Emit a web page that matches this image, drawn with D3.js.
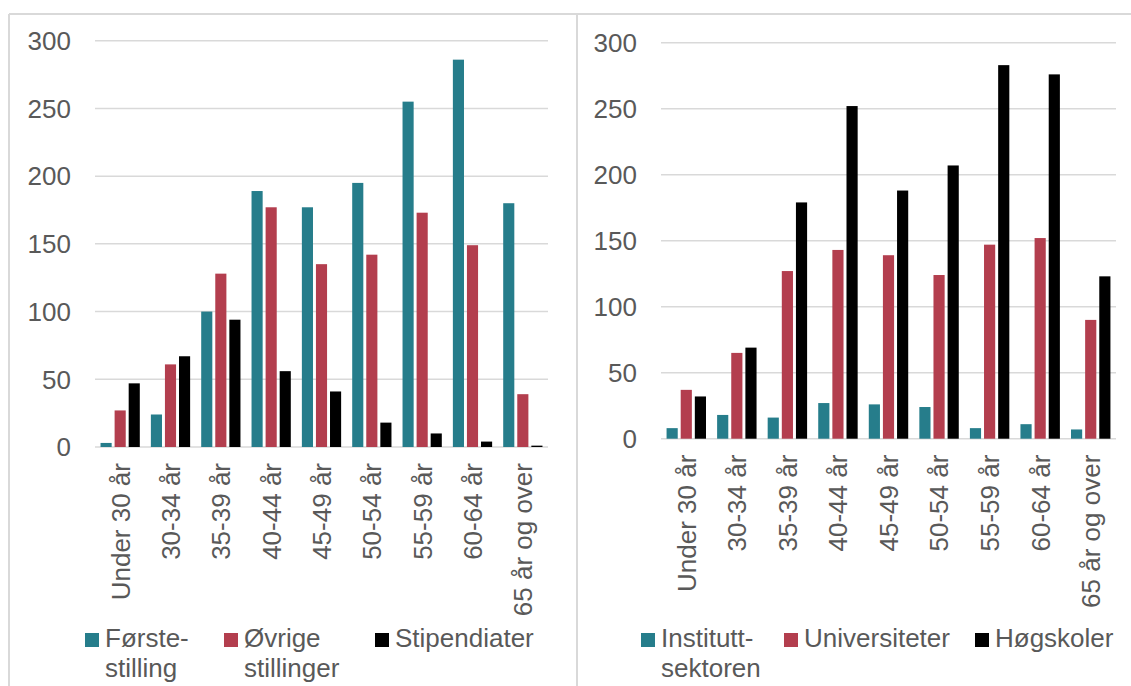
<!DOCTYPE html>
<html>
<head>
<meta charset="utf-8">
<script src="https://cdn.jsdelivr.net/npm/d3@7"></script>
<style>
  html, body { margin: 0; padding: 0; background: #fff; }
  text { font-family: "Liberation Sans", Arial, sans-serif; fill: #595959; }
</style>
</head>
<body>
<script>
// age groups (same on both panels)
var ageGroups = ["Under 30 år", "30-34 år", "35-39 år", "40-44 år", "45-49 år",
                 "50-54 år", "55-59 år", "60-64 år", "65 år og over"];
var yTicks = [0, 50, 100, 150, 200, 250, 300];

// left panel: by position
var forsteStilling   = [3, 24, 100, 189, 177, 195, 255, 286, 180];
var ovrigeStillinger = [27, 61, 128, 177, 135, 142, 173, 149, 39];
var stipendiater     = [47, 67, 94, 56, 41, 18, 10, 4, 1];

// right panel: by sector
var instituttsektoren = [8, 18, 16, 27, 26, 24, 8, 11, 7];
var universiteter     = [37, 65, 127, 143, 139, 124, 147, 152, 90];
var hogskoler         = [32, 69, 179, 252, 188, 207, 283, 276, 123];

var colors = ["#267d8b", "#b33e4e", "#000000"];

var W = 1131, H = 686;
var svg = d3.select("body").append("svg").attr("width", W).attr("height", H);

// frame lines
var frame = svg.append("g").attr("stroke", "#d9d9d9").attr("stroke-width", 2);
frame.append("line").attr("x1", 9).attr("x2", W).attr("y1", 14).attr("y2", 14);
frame.append("line").attr("x1", 9).attr("x2", 9).attr("y1", 14).attr("y2", H);
frame.append("line").attr("x1", 577).attr("x2", 577).attr("y1", 14).attr("y2", H);

function drawPanel(p) {
  var g = svg.append("g");
  var y = d3.scaleLinear().domain([0, 300]).range([p.y0, p.y300]);
  var x = d3.scaleBand().domain(ageGroups).range([p.x0, p.x1])
      .paddingInner(0.22).paddingOuter(0.11);
  var xs = d3.scaleBand().domain([0, 1, 2]).range([0, x.bandwidth()])
      .paddingInner(0.21).paddingOuter(0);

  // gridlines
  g.append("g").selectAll("line").data(yTicks).join("line")
    .attr("x1", p.x0).attr("x2", p.x1)
    .attr("y1", function(d) { return y(d); }).attr("y2", function(d) { return y(d); })
    .attr("stroke", "#d9d9d9").attr("stroke-width", 1.5);

  // y tick labels
  g.append("g").selectAll("text").data(yTicks).join("text")
    .attr("x", p.x0 - 24).attr("y", function(d) { return y(d); })
    .attr("dy", "0.36em").attr("text-anchor", "end")
    .style("font-size", "26px")
    .text(function(d) { return d; });

  // bars
  p.series.forEach(function(vals, si) {
    g.append("g").selectAll("rect").data(vals).join("rect")
      .attr("x", function(d, i) { return x(ageGroups[i]) + xs(si); })
      .attr("width", xs.bandwidth())
      .attr("y", function(d) { return y(d); })
      .attr("height", function(d) { return y(0) - y(d); })
      .attr("fill", colors[si]);
  });

  // category labels rotated
  g.append("g").selectAll("text").data(ageGroups).join("text")
    .attr("transform", function(d) {
      return "translate(" + (x(d) + x.bandwidth() / 2) + "," + (y(0) + 16) + ") rotate(-90)";
    })
    .attr("dy", "0.36em").attr("text-anchor", "end")
    .style("font-size", "26px")
    .text(function(d) { return d; });

  // legend
  var lg = g.append("g");
  p.legend.forEach(function(item, i) {
    lg.append("rect").attr("x", item.x).attr("y", 633).attr("width", 14).attr("height", 14)
      .attr("fill", colors[i]);
    var t = lg.append("text").attr("x", item.x + 20).attr("y", 647).style("font-size", "26px");
    item.lines.forEach(function(line, li) {
      t.append("tspan").attr("x", item.x + 20).attr("dy", li === 0 ? 0 : 30).text(line);
    });
  });
}

drawPanel({
  x0: 95, x1: 548, y0: 447, y300: 40.7,
  series: [forsteStilling, ovrigeStillinger, stipendiater],
  legend: [
    { x: 85, lines: ["Første-", "stilling"] },
    { x: 224, lines: ["Øvrige", "stillinger"] },
    { x: 375, lines: ["Stipendiater"] }
  ]
});

drawPanel({
  x0: 661, x1: 1116, y0: 438.7, y300: 42.7,
  series: [instituttsektoren, universiteter, hogskoler],
  legend: [
    { x: 641, lines: ["Institutt-", "sektoren"] },
    { x: 784, lines: ["Universiteter"] },
    { x: 975, lines: ["Høgskoler"] }
  ]
});
</script>
</body>
</html>
